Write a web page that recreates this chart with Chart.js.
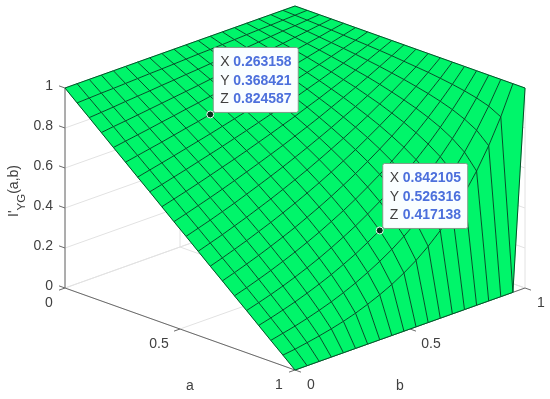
<!DOCTYPE html>
<html>
<head>
<meta charset="utf-8">
<style>body{margin:0;background:#fff}canvas{display:block}</style>
<script src="https://cdn.jsdelivr.net/npm/chart.js@4"></script>
</head>
<body>
<canvas id="chart" width="550" height="399"></canvas>
<script>
// grid positions along both inputs
const gridSteps = [0,1,2,3,4,5,6,7,8,9,10,11,12,13,14,15,16,17,18,19];
const gridCount = 19;

// I'YG(a,b), one row per a step, columns are b steps
const z00 = [1,1,1,1,1,1,1,1,1,1,1,1,1,1,1,1,1,1,1,1];
const z01 = [.947,.950,.953,.955,.958,.961,.964,.966,.969,.972,.975,.977,.980,.983,.986,.989,.991,.994,.997,1];
const z02 = [.895,.900,.905,.911,.916,.921,.927,.932,.938,.943,.949,.954,.960,.965,.971,.977,.983,.988,.994,1];
const z03 = [.842,.850,.857,.865,.873,.881,.889,.897,.905,.914,.922,.930,.939,.947,.956,.964,.973,.982,.991,1];
const z04 = [.789,.799,.809,.819,.830,.840,.851,.861,.872,.883,.894,.905,.917,.928,.940,.951,.963,.975,.988,1];
const z05 = [.737,.749,.761,.773,.786,.799,.811,.825,.838,.852,.865,.879,.894,.908,.923,.938,.953,.968,.984,1];
const z06 = [.684,.698,.712,.726,.741,.756,.771,.787,.803,.819,.835,.852,.870,.887,.905,.923,.942,.961,.980,1];
const z07 = [.632,.647,.663,.679,.696,.713,.730,.748,.766,.785,.804,.824,.844,.865,.886,.908,.930,.953,.976,1];
const z08 = [.579,.596,.613,.631,.650,.669,.688,.708,.729,.750,.772,.794,.818,.841,.866,.891,.917,.944,.972,1];
const z09 = [.526,.544,.563,.582,.602,.623,.645,.667,.690,.713,.738,.763,.789,.817,.845,.874,.904,.935,.967,1];
const z10 = [.474,.493,.512,.533,.554,.577,.600,.624,.649,.675,.702,.730,.759,.790,.821,.854,.889,.924,.961,1];
const z11 = [.421,.441,.461,.483,.505,.529,.553,.579,.606,.634,.664,.695,.727,.761,.796,.834,.872,.913,.955,1];
const z12 = [.368,.388,.409,.431,.455,.479,.505,.532,.561,.591,.623,.657,.692,.730,.769,.810,.854,.900,.949,1];
const z13 = [.316,.336,.357,.379,.403,.428,.454,.483,.513,.545,.579,.615,.654,.695,.738,.785,.834,.886,.941,1];
const z14 = [.263,.282,.303,.325,.349,.374,.401,.430,.462,.495,.531,.570,.611,.656,.704,.755,.810,.869,.932,1];
const z15 = [.211,.229,.248,.269,.292,.317,.344,.374,.406,.440,.478,.519,.563,.611,.664,.720,.782,.849,.921,1];
const z16 = [.158,.174,.192,.211,.233,.257,.283,.312,.343,.379,.417,.460,.507,.558,.615,.678,.747,.823,.907,1];
const z17 = [.105,.119,.133,.150,.169,.190,.214,.241,.272,.306,.344,.388,.436,.491,.553,.623,.701,.789,.888,1];
const z18 = [.053,.061,.072,.084,.098,.114,.133,.156,.182,.212,.248,.289,.338,.395,.461,.538,.628,.733,.856,1];
const z19 = [0,0,0,0,0,0,0,0,0,0,0,0,0,0,0,0,0,0,0,1];
const zRows = [z00,z01,z02,z03,z04,z05,z06,z07,z08,z09,z10,z11,z12,z13,z14,z15,z16,z17,z18,z19];

// axis ticks
const aTicks = [0, 0.5, 1];
const bTicks = [0, 0.5, 1];
const zTicks = [0, 0.2, 0.4, 0.6, 0.8, 1];

// the two data tips
const tipX = ['0.263158', '0.842105'];
const tipY = ['0.368421', '0.526316'];
const tipZ = ['0.824587', '0.417138'];

const textColor = '#404040';
const tickFont = '14px "Liberation Sans", Arial, sans-serif';
const surfaceColor = '#00f56a';
const meshColor = '#044f28';

// orthographic view: horizontal = a+b, vertical = z plus a tilt from a-b
const tilt = 0.41;
const project = (a, b, z) => ({ x: a + b, y: z - (a - b) * tilt });

const line = (points, color, width) => ({
  data: points,
  showLine: true,
  borderColor: color,
  borderWidth: width,
  pointRadius: 0,
  fill: false,
});

// painted back to front, reversed before it goes to the chart
const layers = [];

const gridColor = '#e2e2e2';
zTicks.forEach(z => {
  layers.push(line([project(0, 0, z), project(0, 1, z), project(1, 1, z)], gridColor, 1));
});
aTicks.forEach(a => {
  layers.push(line([project(a, 0, 0), project(a, 1, 0), project(a, 1, 1)], gridColor, 1));
});
bTicks.forEach(b => {
  layers.push(line([project(1, b, 0), project(0, b, 0), project(0, b, 1)], gridColor, 1));
});

const axisColor = '#6a6a6a';
const tickLen = 0.026;
layers.push(line([project(0, 0, 0), project(0, 0, 1)], axisColor, 1));
layers.push(line([project(0, 0, 0), project(1, 0, 0)], axisColor, 1));
layers.push(line([project(1, 0, 0), project(1, 1, 0)], axisColor, 1));
aTicks.forEach(a => layers.push(line([project(a, 0, 0), project(a, -tickLen, 0)], axisColor, 1)));
bTicks.forEach(b => layers.push(line([project(1, b, 0), project(1 + tickLen, b, 0)], axisColor, 1)));
zTicks.forEach(z => layers.push(line([project(0, 0, z), project(-tickLen, 0, z)], axisColor, 1)));

// surface quads, far corner (a=0, b=1) first
for (let i = 0; i < gridCount; i++) {
  for (let j = gridCount - 1; j >= 0; j--) {
    const a0 = gridSteps[i] / gridCount, a1 = gridSteps[i + 1] / gridCount;
    const b0 = gridSteps[j] / gridCount, b1 = gridSteps[j + 1] / gridCount;
    const quad = [
      project(a0, b0, zRows[i][j]),
      project(a1, b0, zRows[i + 1][j]),
      project(a1, b1, zRows[i + 1][j + 1]),
      project(a0, b1, zRows[i][j + 1]),
      project(a0, b0, zRows[i][j]),
    ];
    layers.push({
      data: quad,
      showLine: true,
      borderColor: surfaceColor,
      borderWidth: 0.5,
      backgroundColor: surfaceColor,
      pointRadius: 0,
      fill: 'shape',
    });
  }
}

// mesh lines go over the fills so both directions look the same
gridSteps.forEach(i => {
  layers.push(line(gridSteps.map(j => project(i / gridCount, j / gridCount, zRows[i][j])), meshColor, 1));
  layers.push(line(gridSteps.map(k => project(k / gridCount, i / gridCount, zRows[k][i])), meshColor, 1));
});

// data tip markers
const tipLayer = {
  label: 'tips',
  data: tipX.map((x, i) => project(+x, +tipY[i], +tipZ[i])),
  showLine: false,
  pointRadius: 3.5,
  pointBackgroundColor: '#06301a',
  pointBorderColor: '#e8fff2',
  pointBorderWidth: 1,
};
layers.push(tipLayer);

const plotText = {
  id: 'plotText',
  // tip boxes go in right under the markers
  beforeDatasetDraw(chart, args) {
    if (chart.data.datasets[args.index].label !== 'tips') return;
    const { ctx } = chart;
    const pts = args.meta.data;
    tipX.forEach((x, i) => {
      const px = pts[i].x, py = pts[i].y;
      const left = px + 3, top = py - 67, w = 85, h = 65;
      ctx.save();
      ctx.beginPath();
      ctx.roundRect(left, top, w, h, 2);
      ctx.fillStyle = '#f9feff';
      ctx.fill();
      ctx.strokeStyle = '#7f9c86';
      ctx.lineWidth = 1;
      ctx.stroke();
      ctx.textBaseline = 'middle';
      [['X', x], ['Y', tipY[i]], ['Z', tipZ[i]]].forEach((row, r) => {
        const y = top + 15 + r * 18.5;
        ctx.font = tickFont;
        ctx.fillStyle = textColor;
        ctx.textAlign = 'left';
        ctx.fillText(row[0], left + 7, y);
        ctx.font = 'bold ' + tickFont;
        ctx.fillStyle = '#4c70dc';
        ctx.fillText(row[1], left + 20, y);
      });
      ctx.restore();
    });
  },
  afterDraw(chart) {
    const { ctx, scales } = chart;
    const at = (a, b, z) => {
      const p = project(a, b, z);
      return { x: scales.x.getPixelForValue(p.x), y: scales.y.getPixelForValue(p.y) };
    };
    ctx.save();
    ctx.fillStyle = textColor;
    ctx.font = tickFont;
    ctx.textBaseline = 'middle';

    ctx.textAlign = 'right';
    zTicks.forEach(z => {
      const p = at(0, 0, z);
      ctx.fillText(String(z), p.x - 12, p.y - 2);
    });

    ctx.textAlign = 'center';
    aTicks.forEach(a => {
      const p = at(a, 0, 0);
      ctx.fillText(String(a), p.x - (a === 0.5 ? 21 : 16), p.y + 15);
    });
    bTicks.forEach(b => {
      const p = at(1, b, 0);
      ctx.fillText(String(b), p.x + (b === 0.5 ? 21 : 16), p.y + 15);
    });

    const aLabel = at(0.5, 0, 0);
    const bLabel = at(1, 0.5, 0);
    ctx.fillText('a', aLabel.x + 10, aLabel.y + 57);
    ctx.fillText('b', bLabel.x - 10, bLabel.y + 57);

    // rotated z label with its subscript
    ctx.translate(18, 217);
    ctx.rotate(-Math.PI / 2);
    ctx.textAlign = 'left';
    ctx.textBaseline = 'alphabetic';
    ctx.fillText("I'", 0, 0);
    let off = ctx.measureText("I'").width;
    ctx.font = '11.5px "Liberation Sans", Arial, sans-serif';
    ctx.fillText('YG', off, 7);
    off += ctx.measureText('YG').width;
    ctx.font = tickFont;
    ctx.fillText('(a,b)', off, 0);
    ctx.restore();
  },
};

new Chart(document.getElementById('chart').getContext('2d'), {
  type: 'scatter',
  data: { datasets: layers.reverse() },
  options: {
    responsive: false,
    animation: false,
    layout: { padding: 0, autoPadding: false },
    plugins: { legend: { display: false }, tooltip: { enabled: false } },
    events: [],
    scales: {
      x: { type: 'linear', display: false, min: -65 / 230, max: 485 / 230 },
      y: { type: 'linear', display: false, min: -111 / 200, max: 288 / 200 },
    },
  },
  plugins: [plotText],
});
</script>
</body>
</html>
